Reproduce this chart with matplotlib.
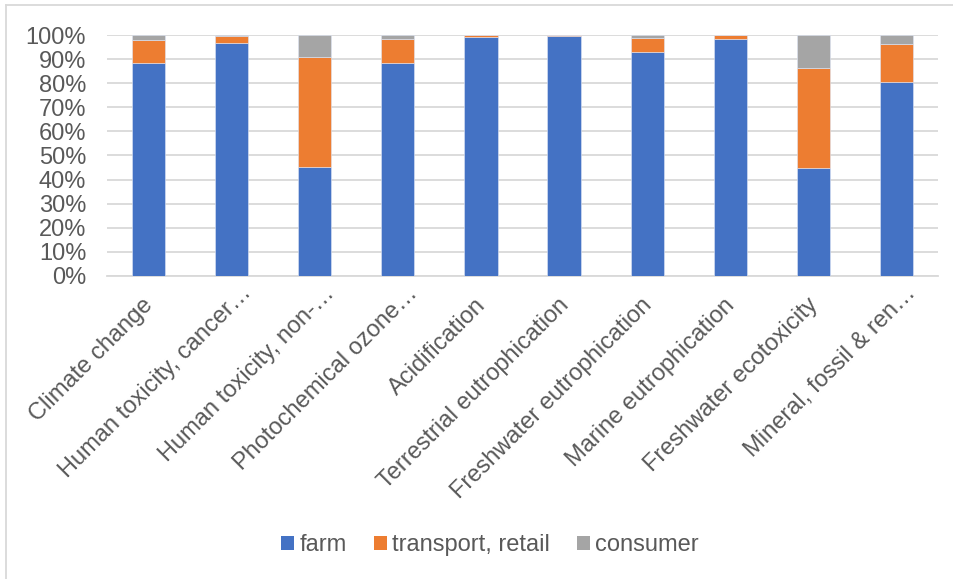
import matplotlib
matplotlib.use("Agg")
import matplotlib.pyplot as plt
from matplotlib.lines import Line2D
from matplotlib.patches import Patch
from matplotlib.transforms import ScaledTranslation
import numpy as np

plt.rcParams['font.family'] = ['Liberation Sans', 'DejaVu Sans']

categories = [
    "Climate change",
    "Human toxicity, cancer\u2026",
    "Human toxicity, non-\u2026",
    "Photochemical ozone\u2026",
    "Acidification",
    "Terrestrial eutrophication",
    "Freshwater eutrophication",
    "Marine eutrophication",
    "Freshwater ecotoxicity",
    "Mineral, fossil & ren\u2026",
]
farm = [88.3, 96.5, 45.1, 88.5, 99.3, 99.7, 93.1, 98.3, 44.9, 80.6]
transport_retail = [9.7, 3.1, 45.8, 9.7, 0.5, 0.2, 5.8, 1.6, 41.3, 15.5]
consumer = [2.0, 0.4, 9.1, 1.8, 0.2, 0.1, 1.1, 0.1, 13.8, 3.9]
series_names = ["farm", "transport, retail", "consumer"]
y_ticks = [0, 10, 20, 30, 40, 50, 60, 70, 80, 90, 100]

colors = ["#4472C4", "#ED7D31", "#A5A5A5"]
text_color = "#595959"
grid_color = "#D9D9D9"
fs = 17

W, H = 954, 579
fig = plt.figure(figsize=(W / 100, H / 100), dpi=100)
ax = fig.add_axes([107 / W, 1 - 276 / H, (938 - 107) / W, (276 - 35) / H])

data = np.array([farm, transport_retail, consumer], dtype=float)
totals = data.sum(axis=0)
shares = data / totals * 100
x = np.arange(len(categories))
bottom = np.zeros(len(categories))
for vals, col in zip(shares, colors):
    ax.bar(x, vals, width=0.4, bottom=bottom, color=col, edgecolor="#dfe6f5",
           linewidth=0.4, zorder=3)
    bottom += vals

ax.set_xlim(-0.5, len(categories) - 0.5)
ax.set_ylim(0, 100)
ax.set_yticks(y_ticks)
ax.set_yticklabels([f"{t}%" for t in y_ticks])
ax.yaxis.grid(True, color=grid_color, linewidth=1.3, zorder=0)
ax.set_axisbelow(True)
for s in ["top", "right", "left"]:
    ax.spines[s].set_visible(False)
ax.spines["bottom"].set_color(grid_color)
ax.spines["bottom"].set_linewidth(1.3)
ax.tick_params(axis="y", length=0, pad=15, labelsize=fs, labelcolor=text_color)
ax.tick_params(axis="x", length=0, pad=13, labelsize=fs, labelcolor=text_color)
ax.set_xticks(x)
labels = ax.set_xticklabels(categories, rotation=45, ha="right", va="top",
                            rotation_mode="default")
for lab in labels:
    # truncated labels sit a little further up along the diagonal
    if lab.get_text().endswith("\u2026"):
        shift = ScaledTranslation(24 / 100, 12 / 100, fig.dpi_scale_trans)
    else:
        shift = ScaledTranslation(9 / 100, 0, fig.dpi_scale_trans)
    lab.set_transform(lab.get_transform() + shift)

handles = [Patch(facecolor=c, edgecolor="none") for c in colors]
fig.legend(handles, series_names, loc="center",
           bbox_to_anchor=(490 / W, 1 - 545 / H), ncol=3, frameon=False,
           fontsize=fs, labelcolor=text_color, handlelength=0.55,
           handleheight=0.55, handletextpad=0.22, columnspacing=1.15)

# chart frame
fig.add_artist(Line2D([6 / W, 1], [1 - 5 / H, 1 - 5 / H], transform=fig.transFigure,
                      color="#D9D9D9", linewidth=1.3))
fig.add_artist(Line2D([6 / W, 6 / W], [0, 1 - 5 / H], transform=fig.transFigure,
                      color="#D9D9D9", linewidth=1.3))

fig.savefig("out.png", dpi=100, facecolor="white")
